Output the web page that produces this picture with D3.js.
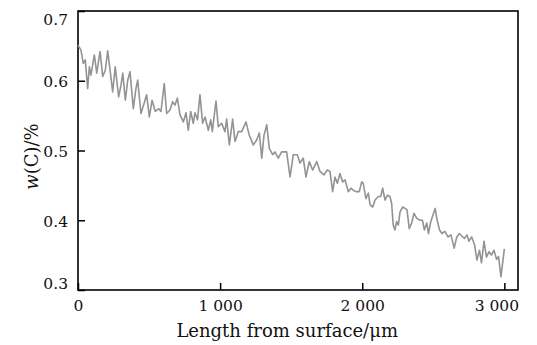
<!DOCTYPE html>
<html>
<head>
<meta charset="utf-8">
<script src="https://cdn.jsdelivr.net/npm/d3@7"></script>
<style>
  html, body { margin: 0; padding: 0; background: #fff; }
  svg text { font-family: "DejaVu Serif", serif; fill: #111; }
</style>
</head>
<body>
<div id="chart"></div>
<script>
// Depth below surface (um) and carbon content (%)
const depth = [
  0, 21, 37, 51, 68, 80, 91, 115, 132, 155, 174, 192, 209, 244, 262, 286, 303, 315, 333, 350,
  366, 389, 408, 420, 443, 466, 483, 502, 521, 544, 568, 584, 607, 624, 647, 666, 682, 699, 718, 741,
  760, 776, 793, 811, 823, 841, 858, 877, 894, 917, 934, 945, 971, 987, 1011, 1034, 1046, 1065, 1088, 1105,
  1128, 1152, 1182, 1205, 1233, 1257, 1276, 1293, 1309, 1328, 1346, 1370, 1386, 1409, 1433, 1468, 1492, 1515, 1543, 1562,
  1585, 1604, 1627, 1651, 1680, 1703, 1731, 1754, 1773, 1792, 1808, 1825, 1843, 1862, 1879, 1902, 1921, 1937, 1956, 1979,
  1996, 2007, 2026, 2043, 2055, 2074, 2090, 2113, 2130, 2144, 2160, 2178, 2195, 2207, 2218, 2230, 2242, 2254, 2266, 2285,
  2301, 2315, 2331, 2348, 2364, 2383, 2406, 2424, 2437, 2454, 2466, 2481, 2513, 2527, 2544, 2561, 2582, 2603, 2624, 2647,
  2665, 2684, 2702, 2720, 2737, 2751, 2770, 2790, 2807, 2825, 2839, 2857, 2874, 2892, 2909, 2927, 2945, 2959, 2976, 3000
];
const carbon = [
  0.651, 0.644, 0.625, 0.630, 0.589, 0.620, 0.608, 0.637, 0.611, 0.642, 0.606, 0.615, 0.643, 0.584, 0.620, 0.577, 0.594, 0.611, 0.572, 0.601,
  0.613, 0.560, 0.589, 0.601, 0.553, 0.568, 0.580, 0.548, 0.572, 0.556, 0.560, 0.556, 0.596, 0.553, 0.558, 0.570, 0.565, 0.575, 0.551, 0.541,
  0.554, 0.529, 0.556, 0.539, 0.554, 0.544, 0.580, 0.539, 0.548, 0.529, 0.544, 0.527, 0.571, 0.534, 0.539, 0.527, 0.545, 0.508, 0.545, 0.513,
  0.527, 0.527, 0.541, 0.522, 0.508, 0.515, 0.525, 0.489, 0.522, 0.537, 0.503, 0.494, 0.498, 0.489, 0.498, 0.498, 0.462, 0.494, 0.494, 0.482,
  0.489, 0.462, 0.484, 0.472, 0.484, 0.470, 0.465, 0.472, 0.470, 0.441, 0.462, 0.453, 0.467, 0.455, 0.458, 0.441, 0.446, 0.443, 0.441, 0.441,
  0.455, 0.453, 0.431, 0.439, 0.422, 0.419, 0.429, 0.434, 0.434, 0.446, 0.429, 0.436, 0.434, 0.424, 0.393, 0.386, 0.398, 0.393, 0.412, 0.419,
  0.417, 0.415, 0.388, 0.396, 0.410, 0.403, 0.400, 0.400, 0.386, 0.396, 0.381, 0.397, 0.417, 0.400, 0.386, 0.381, 0.384, 0.376, 0.379, 0.360,
  0.376, 0.381, 0.377, 0.374, 0.379, 0.370, 0.376, 0.365, 0.343, 0.357, 0.339, 0.370, 0.347, 0.355, 0.350, 0.357, 0.344, 0.348, 0.319, 0.359
];
const xTicks = [0, 1000, 2000, 3000];
const yTicks = [0.3, 0.4, 0.5, 0.6, 0.7];

const width = 537, height = 345;
const margin = { top: 11, right: 19, bottom: 55, left: 78 };

const svg = d3.select('#chart').append('svg')
    .attr('width', width)
    .attr('height', height);

const x = d3.scaleLinear()
    .domain([0, 3096])
    .range([margin.left, width - margin.right]);

const y = d3.scaleLinear()
    .domain([0.3, 0.7])
    .range([height - margin.bottom, margin.top]);

// thousands with a space, as in the figure
const fmt = d3.formatLocale({ decimal: '.', thousands: ' ', grouping: [3], currency: ['', ''] }).format(',');

// Draw the axes (ticks point inwards)
const xAxis = svg.append('g')
    .attr('transform', `translate(0,${height - margin.bottom})`)
    .call(d3.axisBottom(x).tickValues(xTicks).tickFormat(fmt).tickSizeInner(-7).tickSizeOuter(0).tickPadding(10));

const yAxis = svg.append('g')
    .attr('transform', `translate(${margin.left},0)`)
    .call(d3.axisLeft(y).tickValues(yTicks).tickFormat(d3.format('.1f')).tickSizeInner(-7).tickSizeOuter(0).tickPadding(10));

[xAxis, yAxis].forEach(g => {
    g.select('.domain').remove();
    g.selectAll('line').attr('stroke', '#000').attr('stroke-width', 1.5);
    g.selectAll('text')
        .attr('font-family', '"DejaVu Serif", serif')
        .attr('font-size', 15.5)
        .attr('fill', '#111');
});

xAxis.selectAll('text').attr('dy', '0.71em');
xAxis.selectAll('.tick').filter(d => d === 3000).select('text').attr('dx', -8);
yAxis.selectAll('text').attr('dy', '0.38em');
yAxis.selectAll('.tick').filter(d => d === 0.7).select('text').attr('dy', '0.9em');
yAxis.selectAll('.tick').filter(d => d === 0.3).select('text').attr('dy', '-0.1em');

// Frame round the plot
svg.append('rect')
    .attr('x', margin.left)
    .attr('y', margin.top)
    .attr('width', width - margin.left - margin.right)
    .attr('height', height - margin.top - margin.bottom)
    .attr('fill', 'none')
    .attr('stroke', '#000')
    .attr('stroke-width', 1.6);

// The profile
const line = d3.line()
    .x((d, i) => x(depth[i]))
    .y(d => y(d));

svg.append('path')
    .datum(carbon)
    .attr('d', line)
    .attr('fill', 'none')
    .attr('stroke', '#939393')
    .attr('stroke-width', 1.6)
    .attr('stroke-linejoin', 'round');

// Axis labels
svg.append('text')
    .attr('x', x(1500) - 4)
    .attr('y', 337)
    .attr('text-anchor', 'middle')
    .attr('font-size', 18)
    .text('Length from surface/μm');

const yLabel = svg.append('text')
    .attr('transform', `translate(38,${y(0.5) + 6}) rotate(-90)`)
    .attr('text-anchor', 'middle')
    .attr('font-size', 18);
yLabel.append('tspan').attr('font-style', 'italic').text('w');
yLabel.append('tspan').text('(C)/%');
</script>
</body>
</html>
